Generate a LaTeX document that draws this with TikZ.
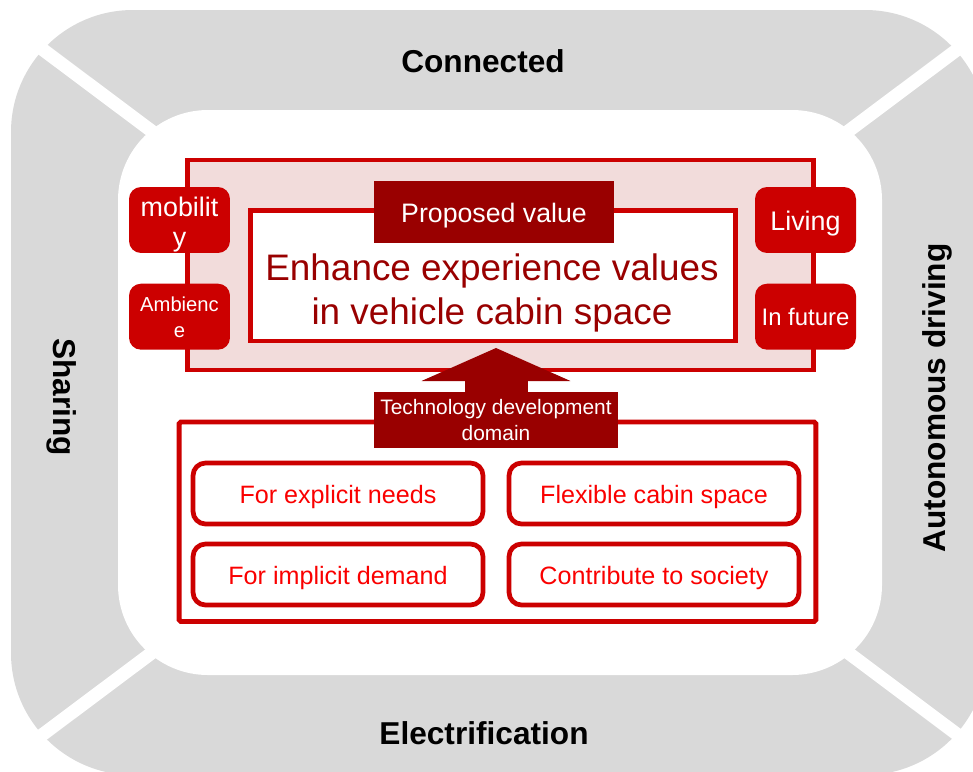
\documentclass[tikz,border=0pt]{standalone}
\usepackage{fontspec}
\setmainfont{Liberation Sans}
\usepackage{tikz}
\usetikzlibrary{arrows.meta,positioning}
\definecolor{framegray}{RGB}{217,217,217}
\definecolor{panelpink}{RGB}{242,220,219}
\definecolor{boxred}{RGB}{204,0,0}
\definecolor{darkred}{RGB}{153,0,0}
\definecolor{textred}{RGB}{250,0,0}

\begin{document}
\begin{tikzpicture}[
    x=0.02cm, y=-0.02cm,
    area/.style={font=\fontsize{18}{21}\selectfont\bfseries, text=black, inner sep=0pt},
    divider/.style={white, line width=7.5pt},
    panel/.style={rectangle, draw=boxred, line width=2.8pt, fill=panelpink, minimum width=12.54cm, minimum height=4.2cm},
    valuebox/.style={rectangle, draw=boxred, line width=2.8pt, fill=white, minimum width=9.71cm, minimum height=2.61cm},
    header/.style={rectangle, fill=darkred, text=white, align=center, inner sep=0pt},
    tag/.style={rectangle, rounded corners=0.24cm, fill=boxred, text=white, minimum width=2.02cm, minimum height=1.32cm, align=center, inner sep=0pt},
    domainframe/.style={rectangle, draw=boxred, line width=2.8pt, rounded corners=1pt, fill=white, minimum width=12.74cm, minimum height=3.99cm},
    need/.style={rectangle, draw=boxred, line width=2.7pt, rounded corners=0.25cm, fill=white, minimum width=5.8cm, minimum height=1.22cm, text=textred, font=\fontsize{14.3}{17}\selectfont, text height=11.9pt, text depth=0pt},
    bigarrow/.style={darkred, line width=1.26cm, -{Triangle[length=0.66cm, width=2.98cm, line width=0pt]}}
]
    \clip (0,0) rectangle (973,771);

    % grey ring split into four trends
    \fill[framegray, rounded corners=2.44cm] (11,10) rectangle (987,775);
    \foreach \dx/\dy in {-490/-367, 490/-367, -490/367, 490/367}
        \draw[divider] (500,392) -- ++(\dx,\dy);
    \fill[white, rounded corners=1.8cm] (118,110) rectangle (882,675);

    \node[area] (connected) at (483,61) {Connected};
    \node[area] (electrification) at (484,733) {Electrification};
    \node[area, rotate=90] (autonomous) at (937,398) {Autonomous driving};
    \node[area, rotate=-90] (sharing) at (62,397) {Sharing};

    % proposed value
    \node[panel] (valuepanel) at (500.5,265) {};
    \node[valuebox] (valuebox) at (492.75,275.75) {};
    \node[header, minimum width=4.8cm, minimum height=1.24cm, font=\fontsize{15.2}{18}\selectfont, text height=12.1pt, text depth=0pt] (proposed) at (494,212) {Proposed value};
    \node[font=\fontsize{21}{25.5}\selectfont, text=darkred, align=center] (valuetext) at (492,293) {Enhance experience values\\in vehicle cabin space};

    \node[tag, font=\fontsize{15.3}{17.5}\selectfont, text height=30.6pt, text depth=0pt] (mobility) at (179.5,220) {mobilit\\y};
    \node[tag, font=\fontsize{11.5}{15}\selectfont, text height=23.6pt, text depth=0pt, below=0.6cm of mobility] (ambience) {Ambienc\\e};
    \node[tag, font=\fontsize{15.3}{18}\selectfont, text height=12.5pt, text depth=0pt] (living) at (805.5,220) {Living};
    \node[tag, font=\fontsize{13.6}{16}\selectfont, below=0.6cm of living] (infuture) {In future};

    % technology development domain
    \node[domainframe] (domain) at (497.5,521.75) {};
    \node[header, minimum width=4.88cm, minimum height=1.12cm, font=\fontsize{11.9}{14.7}\selectfont] (techbox) at (496,420) {Technology development\\domain};
    \coordinate (tip) at (496,348);
    \draw[bigarrow] (techbox.north) -- (tip);

    \node[need] (explicit) at (338,493.5) {For explicit needs};
    \node[need] (implicit) at (338,574.5) {For implicit demand};
    \node[need] (flexible) at (654,493.5) {Flexible cabin space};
    \node[need] (society) at (654,574.5) {Contribute to society};
\end{tikzpicture}
\end{document}
